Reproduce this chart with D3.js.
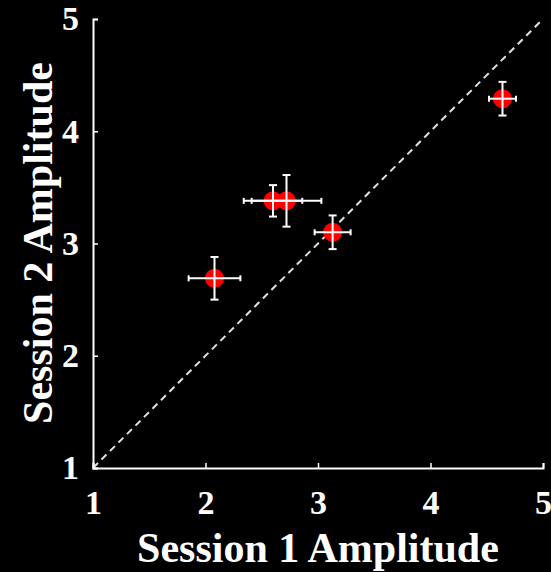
<!DOCTYPE html>
<html><head><meta charset="utf-8">
<script src="https://cdn.jsdelivr.net/npm/d3@7"></script>
<style>body{margin:0;background:#000}svg{display:block}</style>
</head><body>
<svg id="c" width="551" height="572"></svg>
<script>
const session1 = [2.08, 2.60, 2.72, 3.13, 4.64];
const session1Err = [0.23, 0.26, 0.31, 0.16, 0.12];
const session2 = [2.69, 3.38, 3.38, 3.10, 4.29];
const session2Err = [0.19, 0.14, 0.23, 0.15, 0.15];
const ticks = [1, 2, 3, 4, 5];

const svg = d3.select("#c");
svg.append("rect").attr("width",551).attr("height",572).attr("fill","#000");
const x = d3.scaleLinear().domain([1,5]).range([93,543]);
const y = d3.scaleLinear().domain([1,5]).range([468,19]);

const font = "'Liberation Serif','Times New Roman',serif";

// identity line
svg.append("line")
  .attr("x1",x(1)).attr("y1",y(1)).attr("x2",x(5)).attr("y2",y(5))
  .attr("stroke","#e0e0e0").attr("stroke-width",2).attr("stroke-dasharray","7,5");

const xAxis = svg.append("g").attr("transform",`translate(0,${y(1)})`)
  .call(d3.axisBottom(x).tickValues(ticks).tickSize(-5).tickFormat(d3.format("d")));
const yAxis = svg.append("g").attr("transform",`translate(${x(1)},0)`)
  .call(d3.axisLeft(y).tickValues(ticks).tickSize(-5).tickFormat(d3.format("d")));
[xAxis,yAxis].forEach(g=>{
  g.select(".domain").attr("stroke","#fff").attr("stroke-width",2);
  g.selectAll(".tick line").attr("stroke","#fff").attr("stroke-width",1.5);
  g.selectAll(".tick text").attr("fill","#fff").style("font-family",font)
   .style("font-weight","bold").style("font-size","34px");
});
xAxis.selectAll(".tick text").attr("y",22);
yAxis.selectAll(".tick text").attr("x",-14);

const pts = session1.map((v,i)=>({x:v,xe:session1Err[i],y:session2[i],ye:session2Err[i]}));
const g = svg.append("g");
pts.forEach(p=>{
  g.append("circle").attr("cx",x(p.x)).attr("cy",y(p.y)).attr("r",9.5).attr("fill","#ff0000");
});
pts.forEach(p=>{
  const e = g.append("g").attr("stroke","#fff").attr("stroke-width",2);
  e.append("line").attr("x1",x(p.x-p.xe)).attr("x2",x(p.x+p.xe)).attr("y1",y(p.y)).attr("y2",y(p.y));
  e.append("line").attr("x1",x(p.x)).attr("x2",x(p.x)).attr("y1",y(p.y-p.ye)).attr("y2",y(p.y+p.ye));
  e.append("line").attr("x1",x(p.x-p.xe)).attr("x2",x(p.x-p.xe)).attr("y1",y(p.y)-3).attr("y2",y(p.y)+3);
  e.append("line").attr("x1",x(p.x+p.xe)).attr("x2",x(p.x+p.xe)).attr("y1",y(p.y)-3).attr("y2",y(p.y)+3);
  e.append("line").attr("x1",x(p.x)-4).attr("x2",x(p.x)+4).attr("y1",y(p.y-p.ye)).attr("y2",y(p.y-p.ye));
  e.append("line").attr("x1",x(p.x)-4).attr("x2",x(p.x)+4).attr("y1",y(p.y+p.ye)).attr("y2",y(p.y+p.ye));
});

svg.append("text").attr("x",318).attr("y",562).attr("text-anchor","middle")
  .attr("fill","#fff").style("font-family",font).style("font-weight","bold").style("font-size","42px")
  .text("Session 1 Amplitude");
svg.append("text").attr("transform","translate(52,243) rotate(-90)").attr("text-anchor","middle")
  .attr("fill","#fff").style("font-family",font).style("font-weight","bold").style("font-size","42px")
  .text("Session 2 Amplitude");
</script>
</body></html>
